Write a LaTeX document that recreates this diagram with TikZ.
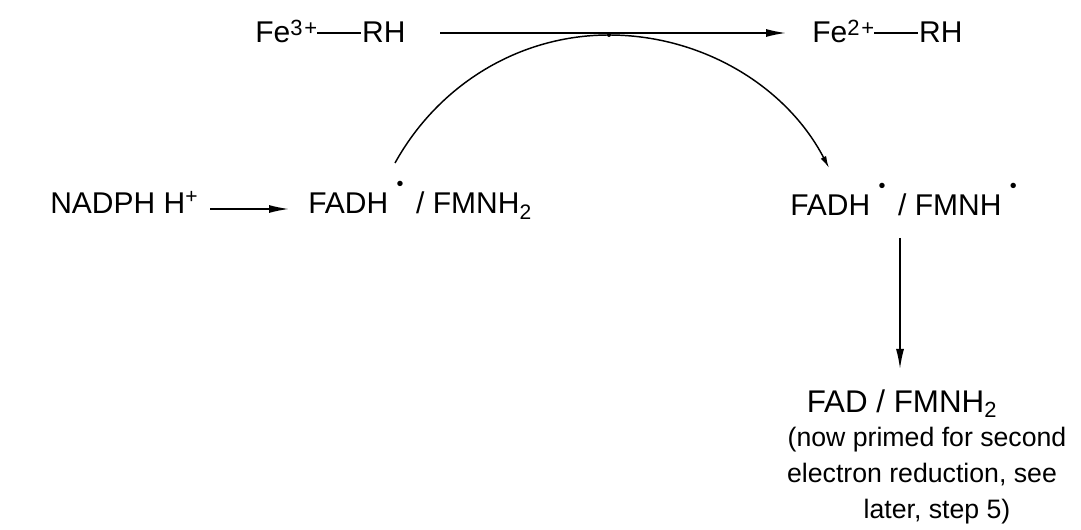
\documentclass[tikz,border=0pt]{standalone}
\usepackage{fontspec}
\setmainfont{Liberation Sans}
\usepackage{graphicx}
\usetikzlibrary{arrows.meta}
\newcommand{\rad}{\hspace{0.28em}\raisebox{0.78em}{\scalebox{0.66}{\textbullet}}\hspace{0.42em}}
\newcommand{\supx}[1]{\raisebox{0.25em}{\fontsize{16.5}{16.5}\selectfont #1}}
\newcommand{\bonddash}{\raisebox{0.3em}{\rule{1.45em}{0.055em}}}
\tikzset{
  lbl/.style={inner sep=0pt, anchor=base west, font=\fontsize{22.5}{27}\selectfont},
  note/.style={inner sep=0pt, anchor=base, font=\fontsize{20}{26.5}\selectfont},
  conn/.style={line width=1.1pt, -{Latex[length=15pt,width=6pt]}},
  smallconn/.style={line width=1.1pt, -{Latex[length=9pt,width=4.5pt]}},
}
\begin{document}
\begin{tikzpicture}[x=0.75pt,y=0.75pt]
\useasboundingbox (0,0) rectangle (1081,-530);
\fill[white] (0,0) rectangle (1081,-530);
% labels
\node[lbl] (fe3) at (255,-43) {Fe\supx{3\hspace{0.08em}+}\bonddash\hspace{0.05em}RH};
\node[lbl] (fe2) at (812,-43) {Fe\supx{2\hspace{0.08em}+}\bonddash\hspace{0.05em}RH};
\node[lbl] (nadph) at (50,-214) {NADPH H\textsuperscript{+}};
\node[lbl] (fadhL) at (308,-214) {FADH\rad/ FMNH\textsubscript{2}};
\node[lbl] (fadhR) at (790,-216) {FADH\rad/ FMNH\rad};
\node[inner sep=0pt, anchor=base, font=\fontsize{23.5}{28}\selectfont] (fad) at (902,-413) {FAD / FMNH\textsubscript{2}};
\node[note] (l2) at (927,-447) {(now primed for second};
\node[note] (l3) at (922,-483) {electron reduction, see};
\node[note] (l4) at (937,-518) {later, step 5)};
% connection points
\coordinate (t1) at (440,-33);
\coordinate (t2) at (786,-33);
\coordinate (n1) at (210,-209);
\coordinate (n2) at (289,-209);
\coordinate (aS) at (395,-163);
\coordinate (aT) at (609,-35);
\coordinate (aE) at (829,-168);
\coordinate (v1) at (900,-238);
\coordinate (v2) at (900,-369);
% connectors
\draw[conn] (t1) -- (t2);
\draw[conn] (n1) -- (n2);
\draw[smallconn] (aS) to[out=61,in=180,looseness=0.92] (aT) to[out=0,in=117.5,looseness=0.92] (aE);
\fill (aT) circle (2);
\draw[conn] (v1) -- (v2);
\end{tikzpicture}
\end{document}
